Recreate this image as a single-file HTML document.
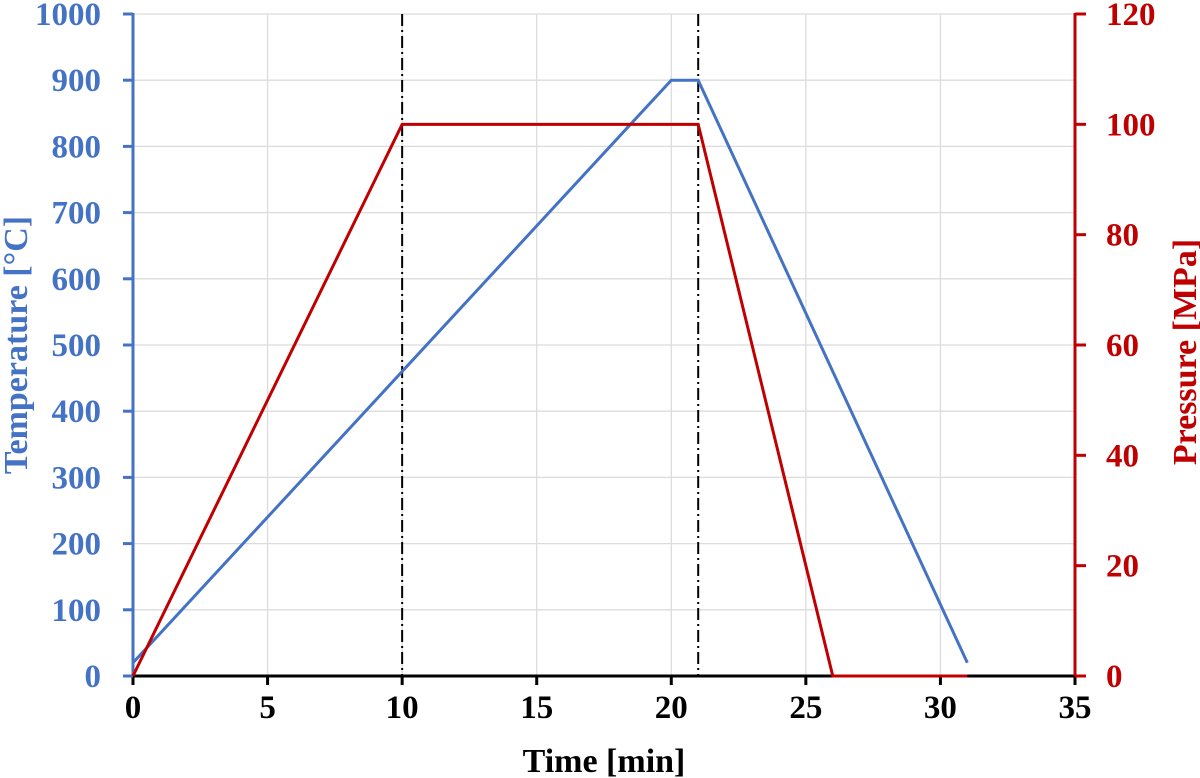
<!DOCTYPE html>
<html><head><meta charset="utf-8"><style>
body{margin:0;background:#fff;}
svg{display:block;font-family:"Liberation Serif",serif;font-weight:bold;}
</style></head><body>
<svg id="chart" width="1200" height="778" viewBox="0 0 1200 778" xmlns="http://www.w3.org/2000/svg">
<g id="grid"></g><g id="axes"></g><g id="series"></g>
</svg>
<script>
const xTicks=[0,5,10,15,20,25,30,35];
const tempTicks=[0,100,200,300,400,500,600,700,800,900,1000];
const presTicks=[0,20,40,60,80,100,120];
const tempTime=[0,20,21,31];
const tempValues=[20,900,900,20];
const presTime=[0,10,21,26,31];
const presValues=[0,100,100,0,0];
const markerTimes=[10,21];

const L=133,R=1075,T=14,B=676;
const xs=v=>L+(R-L)*v/35;
const yT=v=>B-(B-T)*v/1000;
const yP=v=>B-(B-T)*v/120;
const NS="http://www.w3.org/2000/svg";
function mk(parent,tag,attrs){const e=document.createElementNS(NS,tag);for(const k in attrs)e.setAttribute(k,attrs[k]);document.getElementById(parent).appendChild(e);return e;}
const BLUE="#4472C4",RED="#C00000",FS=33;
tempTicks.forEach(v=>{if(v===0)return;const e=mk('grid','line',{x1:L,x2:R,y1:yT(v),y2:yT(v),stroke:'#dcdcdc','stroke-width':1.3});

});
xTicks.forEach(v=>{if(v===0||v===35)return;const e=mk('grid','line',{x1:xs(v),x2:xs(v),y1:T,y2:B,stroke:'#dcdcdc','stroke-width':1.3});

});
let a=mk('axes','line',{x1:L,x2:R,y1:B,y2:B,stroke:'#000','stroke-width':3});


xTicks.forEach(v=>{mk('axes','line',{x1:xs(v),x2:xs(v),y1:B,y2:B+9,stroke:'#000','stroke-width':3});
const t=mk('axes','text',{x:xs(v),y:718,'text-anchor':'middle','font-size':FS,fill:'#000'});t.textContent=v;

});
a=mk('axes','line',{x1:L,x2:L,y1:T-1,y2:B,stroke:BLUE,'stroke-width':3});


tempTicks.forEach(v=>{mk('axes','line',{x1:L-10,x2:L,y1:yT(v),y2:yT(v),stroke:BLUE,'stroke-width':3});
const t=mk('axes','text',{x:101,y:yT(v)+11,'text-anchor':'end','font-size':FS,fill:BLUE});t.textContent=v;

});
a=mk('axes','line',{x1:R,x2:R,y1:T-1,y2:B,stroke:RED,'stroke-width':3});


presTicks.forEach(v=>{mk('axes','line',{x1:R,x2:R+11,y1:yP(v),y2:yP(v),stroke:RED,'stroke-width':3});
const t=mk('axes','text',{x:1106,y:yP(v)+11,'text-anchor':'start','font-size':FS,fill:RED});t.textContent=v;

});
let t=mk('axes','text',{x:604,y:772,'text-anchor':'middle','font-size':34,fill:'#000'});t.textContent='Time [min]';


t=mk('axes','text',{x:0,y:0,'text-anchor':'middle','font-size':34,fill:BLUE,transform:'translate(27,345) rotate(-90)'});t.textContent='Temperature [°C]';


t=mk('axes','text',{x:0,y:0,'text-anchor':'middle','font-size':34,fill:RED,transform:'translate(1196,352) rotate(-90)'});t.textContent='Pressure [MPa]';


markerTimes.forEach(v=>{const e=mk('series','line',{x1:xs(v),x2:xs(v),y1:T,y2:B,stroke:'#000','stroke-width':2,'stroke-dasharray':'12,4,2,4'});

});
let p=mk('series','polyline',{points:tempTime.map((x,i)=>xs(x)+','+yT(tempValues[i])).join(' '),fill:'none',stroke:BLUE,'stroke-width':3});


p=mk('series','polyline',{points:presTime.map((x,i)=>xs(x)+','+yP(presValues[i])).join(' '),fill:'none',stroke:RED,'stroke-width':3});


</script>
</body></html>
